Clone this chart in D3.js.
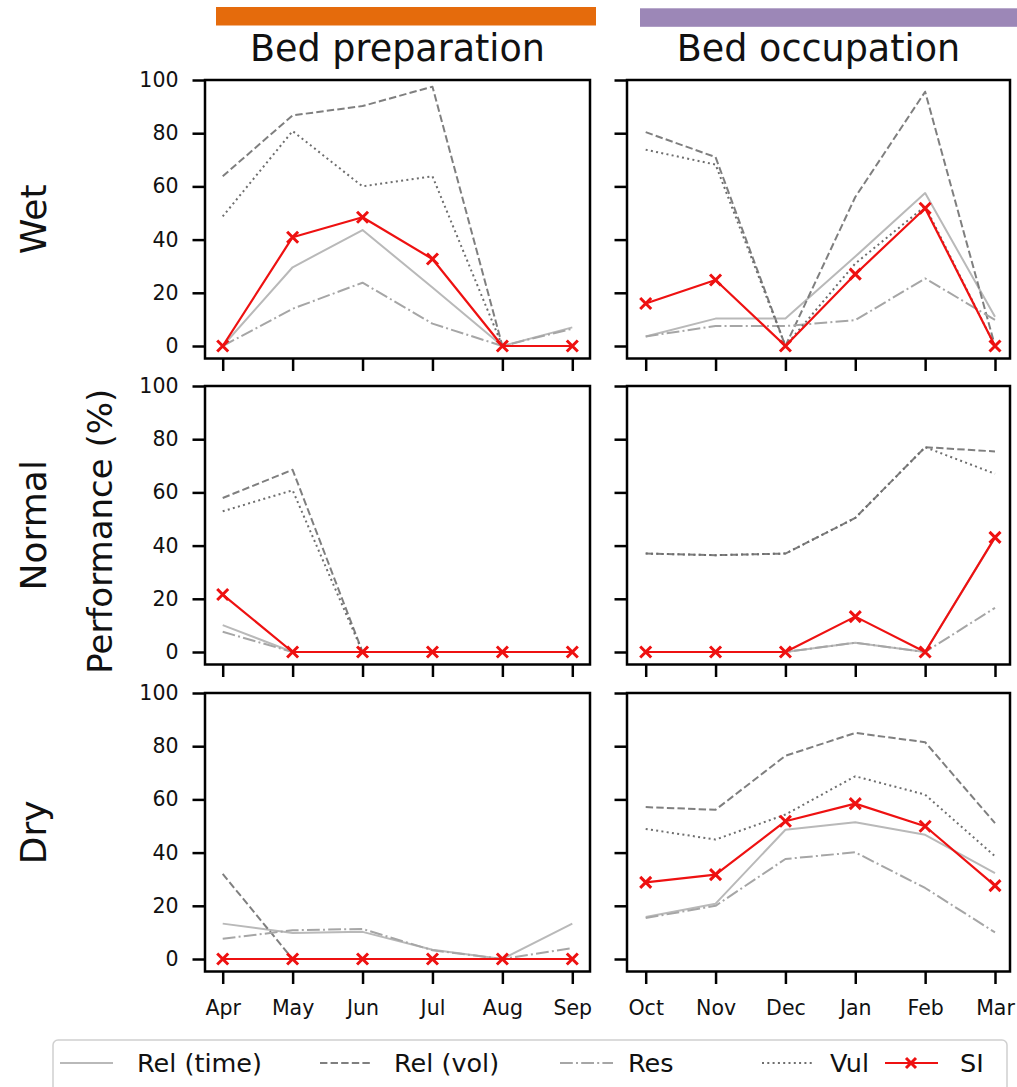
<!DOCTYPE html>
<html><head><meta charset="utf-8">
<script src="https://cdn.jsdelivr.net/npm/d3@7"></script>
<style>body{margin:0;background:#fff}svg{display:block}text{font-family:"DejaVu Sans",sans-serif;fill:#111}</style>
</head><body>
<svg id="c" width="1017" height="1087"></svg>
<script>
// ---------- data ----------
const phases = ["Bed preparation", "Bed occupation"];
const conditions = ["Wet", "Normal", "Dry"];
const monthsPrep = ["Apr", "May", "Jun", "Jul", "Aug", "Sep"];
const monthsOcc = ["Oct", "Nov", "Dec", "Jan", "Feb", "Mar"];
const yTicks = [0, 20, 40, 60, 80, 100];
const seriesNames = ["Rel (time)", "Rel (vol)", "Res", "Vul", "SI"];

// rows: Wet, Normal, Dry
const relTimePrep = [[0, 29.6, 43.6, 22, 0, 7], [10.1, 0, 0, 0, 0, 0], [13.3, 9.8, 10.2, 3.5, 0, 13.3]];
const relVolPrep  = [[63.8, 86.7, 90.2, 97.5, 0, 0], [57.9, 68.5, 0, 0, 0, 0], [32, 0, 0, 0, 0, 0]];
const resPrep     = [[0, 14, 23.8, 8.4, 0, 6.5], [7.6, 0, 0, 0, 0, 0], [7.6, 10.8, 11.3, 3.3, 0, 4.1]];
const vulPrep     = [[48.7, 80.8, 60, 63.8, 0, 0], [52.9, 60.8, 0, 0, 0, 0], [0, 0, 0, 0, 0, 0]];
const siPrep      = [[0, 40.9, 48.4, 32.7, 0, 0], [21.6, 0, 0, 0, 0, 0], [0, 0, 0, 0, 0, 0]];

const relTimeOcc = [[3.6, 10.3, 10.3, 33.6, 57.5, 11], [0, 0, 0, 3.5, 0, 43], [15.8, 20.8, 48.6, 51.4, 46.7, 32.3]];
const relVolOcc  = [[80.4, 71, 0, 56, 95.6, 0], [37, 36.4, 37, 50.4, 77, 75.4], [57.1, 56.1, 76.4, 85, 81.5, 51.1]];
const resOcc     = [[3.6, 7.5, 7.5, 9.7, 25.4, 9.8], [0, 0, 0, 3.5, 0, 16.6], [15.4, 20, 37.6, 40.1, 26.7, 10]];
const vulOcc     = [[73.8, 68.2, 0, 31, 52.5, 0], [37, 36.4, 37, 50.4, 77, 67], [48.9, 44.9, 54.3, 68.7, 61.8, 38.6]];
const siOcc      = [[16, 24.8, 0, 27, 51.8, 0], [0, 0, 0, 13.3, 0, 43.1], [28.8, 31.7, 51.8, 58.4, 49.9, 27.6]];

// ---------- styles ----------
const styles = [
  {stroke: "#b9b9b9", dash: null, w: 2},
  {stroke: "#7f7f7f", dash: "7.4,3.2", w: 2},
  {stroke: "#a6a6a6", dash: "12.8,3.2,2,3.2", w: 2},
  {stroke: "#6e6e6e", dash: "2,3.3", w: 2},
  {stroke: "#ee1111", dash: null, w: 2.2, marker: true}
];

const svg = d3.select("#c");
svg.append("rect").attr("width", 1017).attr("height", 1087).attr("fill", "#fff");

const colFrames = [{x0: 205, x1: 590, t0: 222.7, t1: 572.3}, {x0: 627, x1: 1010, t0: 645.7, t1: 995}];
const rowTops = [80, 386, 693];
const frameH = 278.5;
const phaseData = [
  [relTimePrep, relVolPrep, resPrep, vulPrep, siPrep],
  [relTimeOcc, relVolOcc, resOcc, vulOcc, siOcc]
];
const monthsList = [monthsPrep, monthsOcc];

function xMarker(g, x, y, s, color) {
  g.append("path").attr("d", `M${x - s},${y - s}L${x + s},${y + s}M${x - s},${y + s}L${x + s},${y - s}`)
    .attr("stroke", color).attr("stroke-width", 3).attr("fill", "none");
}

// header bars and titles
svg.append("rect").attr("x", 216).attr("y", 7).attr("width", 380).attr("height", 18.5).attr("fill", "#e56b0c");
svg.append("rect").attr("x", 640).attr("y", 8.3).attr("width", 380).attr("height", 18.5).attr("fill", "#9c87b7");

phases.forEach((p, ci) => {
  const f = colFrames[ci];
  svg.append("text").attr("x", (f.x0 + f.x1) / 2).attr("y", 61).attr("text-anchor", "middle")
    .attr("font-size", 36.5).text(p);
});

conditions.forEach((cond, ri) => {
  const top = rowTops[ri];
  svg.append("text").attr("transform", `translate(46,${top + frameH / 2}) rotate(-90)`)
    .attr("text-anchor", "middle").attr("font-size", 36).text(cond);

  phases.forEach((p, ci) => {
    const f = colFrames[ci];
    const months = monthsList[ci];
    const x = d3.scalePoint().domain(months).range([f.t0, f.t1]);
    const y = d3.scaleLinear().domain([-4.7, 100]).range([top + frameH, top]);
    const g = svg.append("g");

    // axes
    const yAxis = d3.axisLeft(y).tickValues(yTicks).tickSize(12.5).tickPadding(14)
      .tickFormat(ci === 0 ? d3.format("d") : () => "");
    const ya = g.append("g").attr("transform", `translate(${f.x0},0)`).call(yAxis);
    ya.select(".domain").remove();
    ya.selectAll(".tick line").attr("stroke", "#000").attr("stroke-width", 2.5);
    ya.selectAll(".tick text").attr("font-size", 20.5).attr("fill", "#111").attr("font-family", "DejaVu Sans");

    const xAxis = d3.axisBottom(x).tickSize(12.5).tickPadding(16)
      .tickFormat(ri === 2 ? (d => d) : () => "");
    const xa = g.append("g").attr("transform", `translate(0,${top + frameH})`).call(xAxis);
    xa.select(".domain").remove();
    xa.selectAll(".tick line").attr("stroke", "#000").attr("stroke-width", 2.5);
    xa.selectAll(".tick text").attr("font-size", 20.5).attr("fill", "#111").attr("font-family", "DejaVu Sans");

    // lines
    const data = phaseData[ci];
    data.forEach((arr, si) => {
      const vals = arr[ri];
      const st = styles[si];
      const line = d3.line().x((d, i) => x(months[i])).y(d => y(d));
      g.append("path").attr("d", line(vals)).attr("fill", "none")
        .attr("stroke", st.stroke).attr("stroke-width", st.w)
        .attr("stroke-dasharray", st.dash).attr("stroke-linejoin", "round");
      if (st.marker) {
        vals.forEach((v, i) => xMarker(g, x(months[i]), y(v), 5.5, st.stroke));
      }
    });

    // frame
    g.append("rect").attr("x", f.x0).attr("y", top).attr("width", f.x1 - f.x0).attr("height", frameH)
      .attr("fill", "none").attr("stroke", "#000").attr("stroke-width", 2.5);
  });
});

// y label
svg.append("text").attr("transform", `translate(112,${rowTops[1] + frameH / 2 + 6}) rotate(-90)`)
  .attr("text-anchor", "middle").attr("font-size", 34).text("Performance (%)");

// legend
const lg = svg.append("g");
lg.append("rect").attr("x", 53).attr("y", 1040).attr("width", 954).attr("height", 60).attr("rx", 5)
  .attr("fill", "#fff").attr("stroke", "#d0d0d0").attr("stroke-width", 1.5);
const legX = [60, 320, 560, 762, 885];
const legTextX = [137, 394, 628, 830, 960];
seriesNames.forEach((n, i) => {
  const st = styles[i];
  const ly = 1063;
  lg.append("line").attr("x1", legX[i]).attr("x2", legX[i] + 53).attr("y1", ly).attr("y2", ly)
    .attr("stroke", st.stroke).attr("stroke-width", st.w).attr("stroke-dasharray", st.dash);
  if (st.marker) xMarker(lg, legX[i] + 26, ly, 5, st.stroke);
  lg.append("text").attr("x", legTextX[i]).attr("y", ly).attr("dy", "0.35em").attr("font-size", 25.5).text(n);
});
</script>
</body></html>
